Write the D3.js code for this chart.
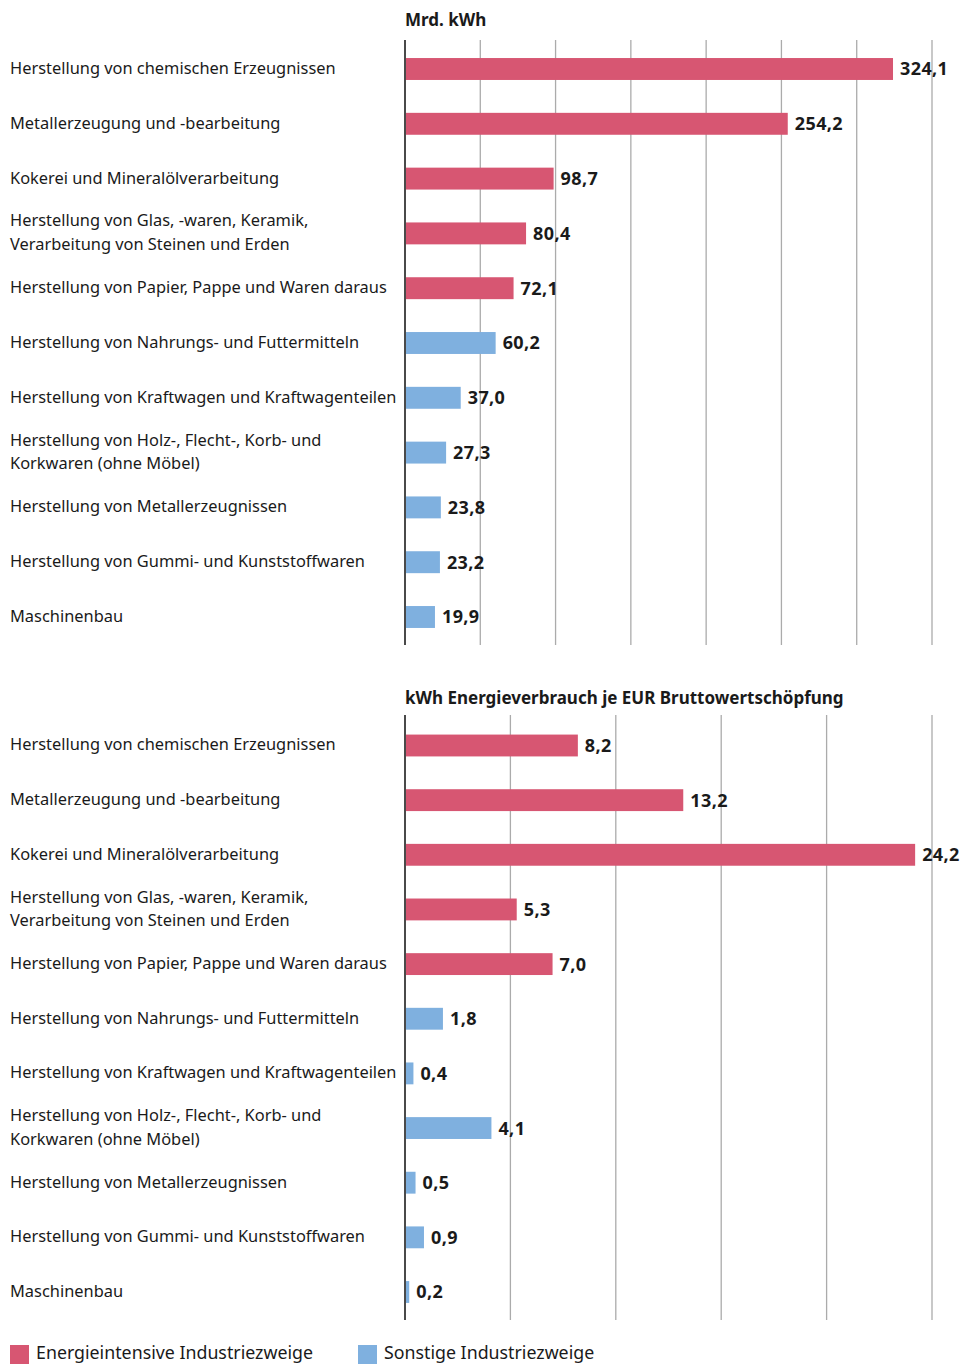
<!DOCTYPE html>
<html>
<head>
<meta charset="utf-8">
<script src="https://cdn.jsdelivr.net/npm/d3@7"></script>
<style>
  html, body { margin: 0; padding: 0; background: #fff; }
  svg { display: block; }
</style>
</head>
<body>
<div id="chart"></div>
<script>
const PINK = '#d75672';
const BLUE = '#7fb0df';
const INK  = '#1a1a1a';
const GRID = '#ababab';
const FONT = '"Noto Sans", "Open Sans", sans-serif';

const categories = [
  ['Herstellung von chemischen Erzeugnissen'],
  ['Metallerzeugung und -bearbeitung'],
  ['Kokerei und Mineralölverarbeitung'],
  ['Herstellung von Glas, -waren, Keramik,', 'Verarbeitung von Steinen und Erden'],
  ['Herstellung von Papier, Pappe und Waren daraus'],
  ['Herstellung von Nahrungs- und Futtermitteln'],
  ['Herstellung von Kraftwagen und Kraftwagenteilen'],
  ['Herstellung von Holz-, Flecht-, Korb- und', 'Korkwaren (ohne Möbel)'],
  ['Herstellung von Metallerzeugnissen'],
  ['Herstellung von Gummi- und Kunststoffwaren'],
  ['Maschinenbau']
];
// true = energieintensiv
const groups = [true, true, true, true, true, false, false, false, false, false, false];

const consumption = [324.1, 254.2, 98.7, 80.4, 72.1, 60.2, 37.0, 27.3, 23.8, 23.2, 19.9];
const intensity   = [8.2, 13.2, 24.2, 5.3, 7.0, 1.8, 0.4, 4.1, 0.5, 0.9, 0.2];

const consumptionTicks = [0, 50, 100, 150, 200, 250, 300, 350];
const intensityTicks   = [0, 5, 10, 15, 20, 25];

const legendItems = [
  { label: 'Energieintensive Industriezweige', color: PINK },
  { label: 'Sonstige Industriezweige', color: BLUE }
];

const W = 964, H = 1364;
const svg = d3.select('#chart').append('svg')
  .attr('width', W).attr('height', H)
  .attr('viewBox', `0 0 ${W} ${H}`);

const fmt = v => d3.format('.1f')(v).replace('.', ',');

function panel(opts) {
  const { values, ticks, title, titleY, gridTop, gridBottom, firstCenter, step } = opts;
  const x = d3.scaleLinear()
    .domain([0, ticks[ticks.length - 1]])
    .range([405, 932]);
  const y = d3.scaleBand()
    .domain(d3.range(values.length))
    .range([firstCenter - step / 2, firstCenter - step / 2 + values.length * step])
    .paddingInner(0.6)
    .paddingOuter(0.3);

  const g = svg.append('g');

  g.append('text')
    .attr('x', 405).attr('y', titleY)
    .attr('font-family', FONT).attr('font-size', 17).attr('font-weight', 700)
    .attr('fill', INK)
    .text(title);

  // grid lines
  g.selectAll('.grid')
    .data(ticks.slice(1))
    .join('line')
    .attr('x1', d => x(d)).attr('x2', d => x(d))
    .attr('y1', gridTop).attr('y2', gridBottom)
    .attr('stroke', GRID).attr('stroke-width', 1.3);

  // bars
  g.selectAll('.bar')
    .data(values)
    .join('rect')
    .attr('x', x(0))
    .attr('y', (d, i) => y(i))
    .attr('width', d => x(d) - x(0))
    .attr('height', y.bandwidth())
    .attr('fill', (d, i) => groups[i] ? PINK : BLUE);

  // axis line
  g.append('line')
    .attr('x1', x(0)).attr('x2', x(0))
    .attr('y1', gridTop).attr('y2', gridBottom)
    .attr('stroke', '#4a4a4a').attr('stroke-width', 2);

  // value labels
  g.selectAll('.val')
    .data(values)
    .join('text')
    .attr('x', d => x(d) + 7)
    .attr('y', (d, i) => y(i) + y.bandwidth() / 2)
    .attr('dy', '0.36em')
    .attr('font-family', FONT).attr('font-size', 18).attr('font-weight', 700)
    .attr('letter-spacing', 0.4)
    .attr('fill', INK)
    .text(d => fmt(d));

  // category labels
  const lab = g.selectAll('.cat')
    .data(categories)
    .join('text')
    .attr('x', 10)
    .attr('y', (d, i) => y(i) + y.bandwidth() / 2 - 1)
    .attr('font-family', FONT).attr('font-size', 16.4)
    .attr('fill', INK);
  lab.selectAll('tspan')
    .data(d => d.map((t, k) => ({ t, k, n: d.length })))
    .join('tspan')
    .attr('x', 10)
    .attr('dy', d => d.k === 0 ? `${0.36 - (d.n - 1) * 0.72}em` : '1.44em')
    .text(d => d.t);
}

panel({
  values: consumption, ticks: consumptionTicks, title: 'Mrd. kWh', titleY: 26,
  gridTop: 40, gridBottom: 645, firstCenter: 69, step: 54.8
});
panel({
  values: intensity, ticks: intensityTicks, title: 'kWh Energieverbrauch je EUR Bruttowertschöpfung',
  titleY: 704, gridTop: 715, gridBottom: 1320, firstCenter: 745.5, step: 54.65
});

// legend
const leg = svg.append('g');
const legX = [10, 358];
legendItems.forEach((d, i) => {
  leg.append('rect')
    .attr('x', legX[i]).attr('y', 1345).attr('width', 19).attr('height', 19)
    .attr('fill', d.color);
  leg.append('text')
    .attr('x', legX[i] + 26).attr('y', 1359)
    .attr('font-family', FONT).attr('font-size', 17.8)
    .attr('fill', INK)
    .text(d.label);
});
</script>
</body>
</html>
